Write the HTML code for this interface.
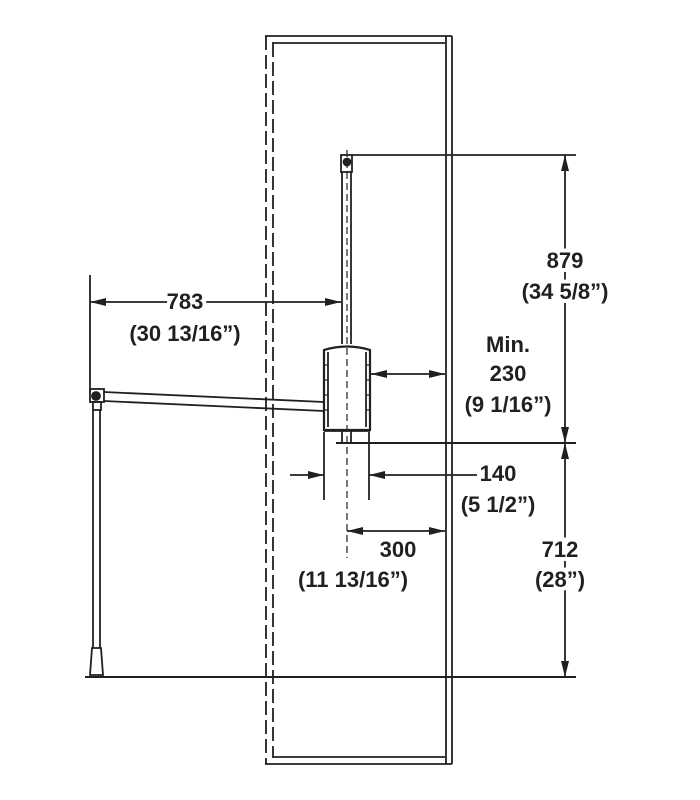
<!DOCTYPE html>
<html><head><style>
html,body{margin:0;padding:0;background:#fff;}
svg{display:block;}
text{font-family:"Liberation Sans",Arial,sans-serif;font-size:22px;font-weight:bold;fill:#231f20;text-anchor:middle;}
.t{paint-order:stroke;stroke:#fff;stroke-width:8px;}
</style></head><body>
<svg width="700" height="800" viewBox="0 0 700 800" xmlns="http://www.w3.org/2000/svg">
<defs>
<marker id="a" viewBox="0 0 16 8" refX="16" refY="4" markerWidth="16" markerHeight="8" markerUnits="userSpaceOnUse" orient="auto-start-reverse"><path d="M0,0L16,4L0,8z" fill="#231f20"/></marker>
</defs>
<g stroke="#231f20" fill="none" stroke-width="1.8">
<!-- cabinet -->
<line x1="265" y1="36" x2="452" y2="36"/>
<line x1="272" y1="43" x2="445" y2="43"/>
<line x1="265" y1="764" x2="452" y2="764"/>
<line x1="272" y1="757" x2="445" y2="757"/>
<line x1="446" y1="36" x2="446" y2="764"/>
<line x1="452" y1="36" x2="452" y2="764"/>
<line x1="266" y1="36" x2="266" y2="764" stroke-dasharray="14,5"/>
<line x1="273" y1="43" x2="273" y2="757" stroke-dasharray="14,5"/>
<!-- pole -->
<rect x="341" y="155" width="11" height="17"/>
<circle cx="347" cy="162" r="3.5" fill="#231f20"/>
<line x1="342" y1="172" x2="342" y2="344"/>
<line x1="351" y1="172" x2="351" y2="344"/>
<line x1="347" y1="150" x2="347" y2="558" stroke-dasharray="7,4" stroke-width="1.2"/>
<!-- cylinder -->
<path d="M324,350 Q347,343 370,350 L370,430 L324,430 Z" stroke-width="2.2"/>
<line x1="328" y1="352" x2="328" y2="427"/>
<line x1="366" y1="352" x2="366" y2="427"/>
<g stroke-width="1.2">
<line x1="324" y1="365" x2="328" y2="365"/><line x1="324" y1="380" x2="328" y2="380"/><line x1="324" y1="395" x2="328" y2="395"/><line x1="324" y1="410" x2="328" y2="410"/>
<line x1="366" y1="365" x2="370" y2="365"/><line x1="366" y1="380" x2="370" y2="380"/><line x1="366" y1="395" x2="370" y2="395"/><line x1="366" y1="410" x2="370" y2="410"/>
</g>
<line x1="324" y1="431" x2="370" y2="431"/>
<line x1="342" y1="431" x2="342" y2="442"/>
<line x1="351" y1="431" x2="351" y2="442"/>
<line x1="336" y1="443" x2="576" y2="443" stroke-width="2"/>
<!-- arm -->
<line x1="104" y1="392" x2="324" y2="402"/>
<line x1="104" y1="401" x2="324" y2="411"/>
<rect x="90" y="389" width="14" height="13"/>
<circle cx="96" cy="396" r="4" fill="#231f20"/>
<rect x="93" y="402" width="8" height="8"/>
<line x1="93" y1="410" x2="93" y2="648"/>
<line x1="100" y1="410" x2="100" y2="648"/>
<path d="M92,648 L101,648 L103,675 L90,675 Z"/>
<line x1="85" y1="677" x2="576" y2="677" stroke-width="2"/>
<!-- dims -->
<line x1="90" y1="275" x2="90" y2="392"/>
<line x1="90" y1="302" x2="341" y2="302" marker-start="url(#a)" marker-end="url(#a)"/>
<line x1="352" y1="155" x2="576" y2="155"/>
<line x1="565" y1="155" x2="565" y2="443" marker-start="url(#a)" marker-end="url(#a)"/>
<line x1="565" y1="443" x2="565" y2="677" marker-start="url(#a)" marker-end="url(#a)"/>
<line x1="371" y1="374" x2="445" y2="374" marker-start="url(#a)" marker-end="url(#a)"/>
<line x1="324" y1="432" x2="324" y2="500"/>
<line x1="369" y1="432" x2="369" y2="500"/>
<line x1="290" y1="475" x2="324" y2="475" marker-end="url(#a)"/>
<line x1="478" y1="475" x2="369" y2="475" marker-end="url(#a)"/>
<line x1="347" y1="531" x2="445" y2="531" marker-start="url(#a)" marker-end="url(#a)"/>
</g>
<text class="t" x="185" y="309">783</text>
<text class="t" x="185" y="341">(30 13/16”)</text>
<text class="t" x="565" y="268">879</text>
<text class="t" x="565" y="299">(34 5/8”)</text>
<text class="t" x="508" y="352">Min.</text>
<text class="t" x="508" y="381">230</text>
<text class="t" x="508" y="412">(9 1/16”)</text>
<text class="t" x="498" y="481">140</text>
<text class="t" x="498" y="512">(5 1/2”)</text>
<text class="t" x="398" y="557">300</text>
<text class="t" x="353" y="587">(11 13/16”)</text>
<text class="t" x="560" y="557">712</text>
<text class="t" x="560" y="587">(28”)</text>
</svg>
</body></html>
